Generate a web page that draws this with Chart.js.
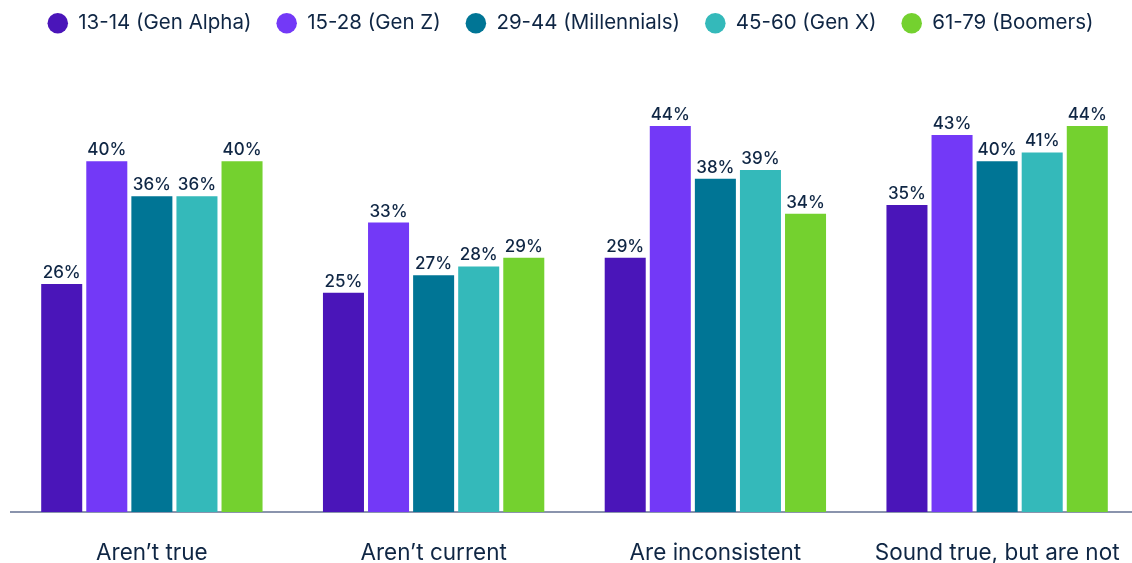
<!DOCTYPE html>
<html>
<head>
<meta charset="utf-8">
<script src="https://cdn.jsdelivr.net/npm/chart.js@4"></script>
<style>
  html, body { margin: 0; padding: 0; background: #fff; overflow: hidden; }
  canvas { display: block; margin-left: -4px; }
</style>
</head>
<body>
<canvas id="my-chart" width="1142" height="563"></canvas>
<script>
const categories = ["Aren\u2019t true", "Aren\u2019t current", "Are inconsistent", "Sound true, but are not"];
const generations = ["13-14 (Gen Alpha)", "15-28 (Gen Z)", "29-44 (Millennials)", "45-60 (Gen X)", "61-79 (Boomers)"];
const genAlpha = [26, 25, 29, 35];
const genZ = [40, 33, 44, 43];
const millennials = [36, 27, 38, 40];
const genX = [36, 28, 39, 41];
const boomers = [40, 29, 34, 44];
const colors = ["#4a15b9", "#7339f7", "#007595", "#34b9ba", "#74d12f"];

const textColor = "#0f2644";

// value labels above each bar
const barLabels = {
  id: "barLabels",
  afterDatasetsDraw(chart) {
    const ctx = chart.ctx;
    ctx.save();
    ctx.font = "500 17px Inter";
    ctx.fillStyle = textColor;
    ctx.textAlign = "center";
    ctx.textBaseline = "alphabetic";
    chart.data.datasets.forEach((ds, i) => {
      chart.getDatasetMeta(i).data.forEach((bar, j) => {
        ctx.fillText(ds.data[j] + "%", bar.x, bar.y - 6);
      });
    });
    ctx.restore();
  },
};

// extra room under the legend, and nudge it a bit to the left
const legendGap = {
  id: "legendGap",
  beforeInit(chart) {
    const fit = chart.legend.fit;
    chart.legend.fit = function () {
      fit.bind(chart.legend)();
      this.height += 30;
    };
  },
  afterLayout(chart) {
    chart.legend.left -= 4;
    chart.legend.right -= 4;
  },
};

const series = [genAlpha, genZ, millennials, genX, boomers];

new Chart(document.querySelector("#my-chart"), {
  type: "bar",
  data: {
    labels: categories,
    datasets: series.map((values, i) => ({
      label: generations[i],
      data: values,
      backgroundColor: colors[i],
      categoryPercentage: 0.8,
      barPercentage: 0.91,
    })),
  },
  options: {
    responsive: false,
    animation: false,
    layout: { padding: { left: 15, right: 0, top: -12, bottom: -8 } },
    plugins: {
      legend: {
        position: "top",
        labels: {
          usePointStyle: true,
          pointStyle: "circle",
          boxWidth: 21,
          boxHeight: 14.5,
          padding: 25,
          color: textColor,
          font: { family: "Inter", size: 20.5 },
        },
      },
      tooltip: { enabled: false },
    },
    scales: {
      x: {
        grid: {
          display: true,
          drawOnChartArea: false,
          drawTicks: true,
          tickLength: 24,
          color: "transparent",
        },
        border: { display: true, color: "#8a94ad", width: 2 },
        ticks: {
          color: textColor,
          padding: 4,
          font: { family: "Inter", size: 22.5 },
        },
      },
      y: {
        display: false,
        min: 0,
        max: 50,
      },
    },
  },
  plugins: [barLabels, legendGap],
});
</script>
</body>
</html>
